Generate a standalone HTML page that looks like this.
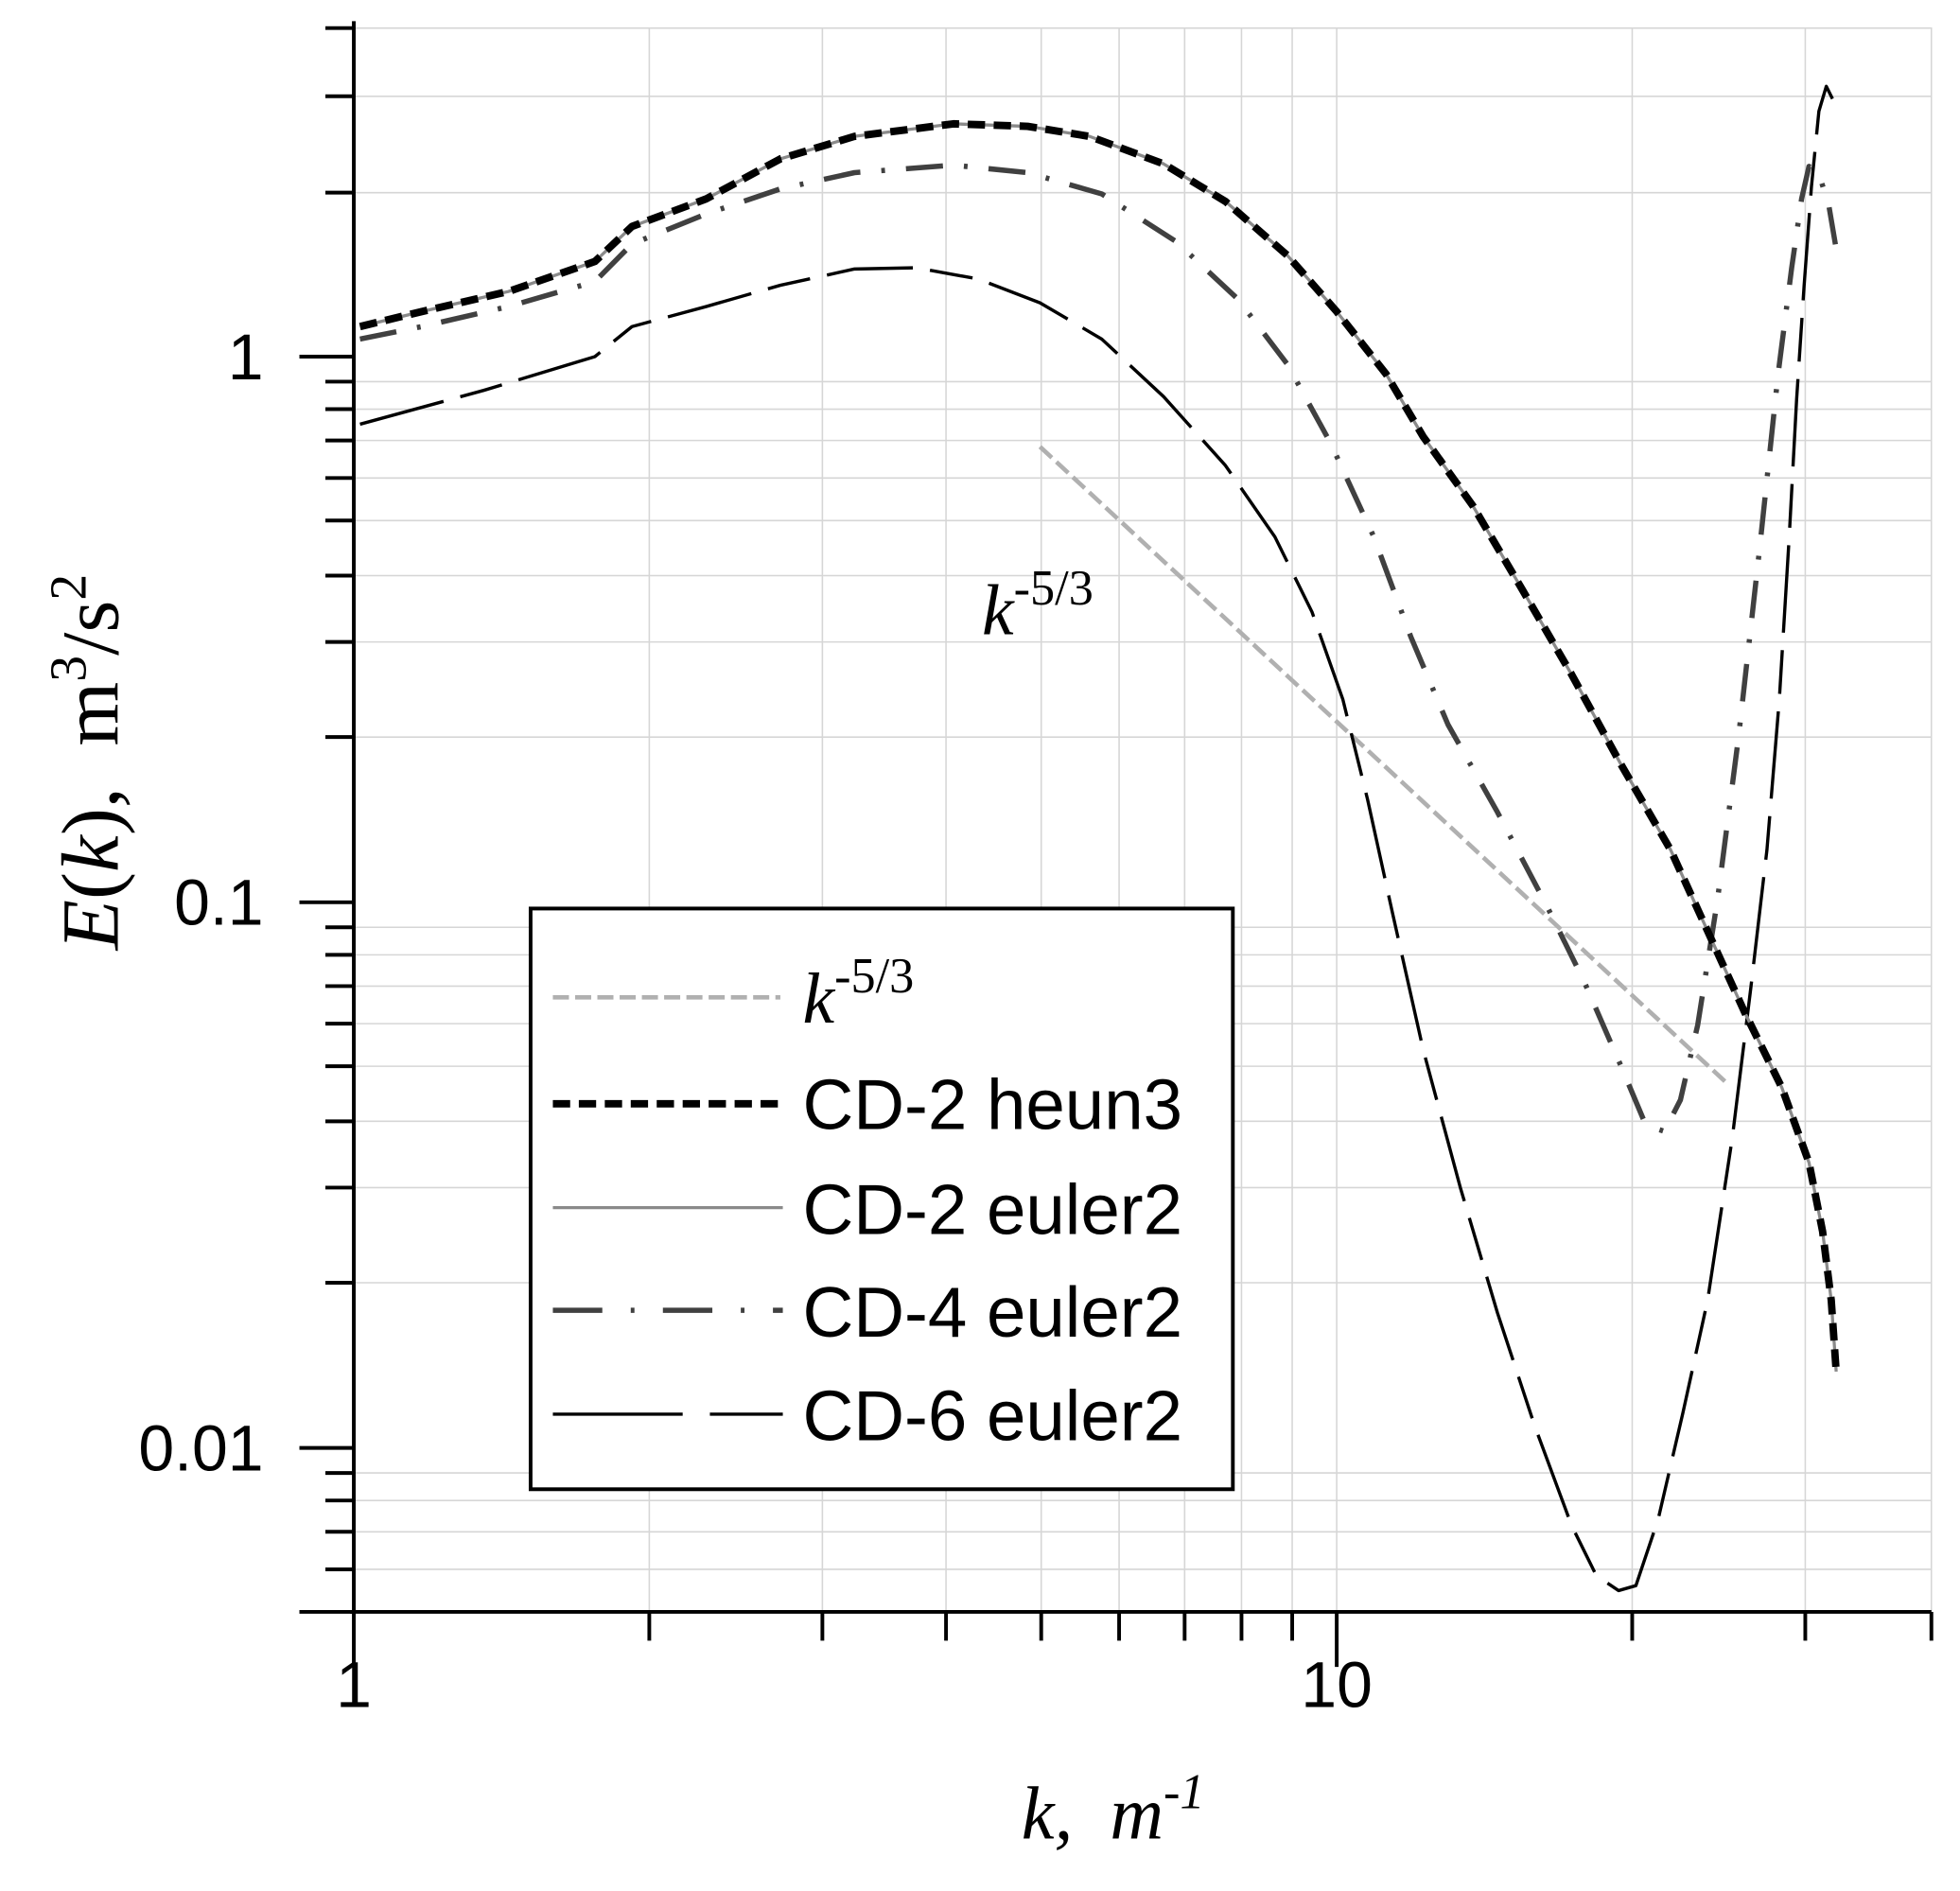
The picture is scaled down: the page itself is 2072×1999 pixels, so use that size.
<!DOCTYPE html>
<html><head><meta charset="utf-8"><style>html,body{margin:0;padding:0;background:#fff}svg{display:block}</style></head>
<body>
<svg width="2072" height="1999" viewBox="0 0 2072 1999" xmlns="http://www.w3.org/2000/svg">
<rect width="2072" height="1999" fill="#fff"/>
<g transform="translate(14.6,-1.4) scale(1.307,1.323)">
<!-- grid -->
<g stroke="#d6d6d6" stroke-width="1.2" fill="none">
<path d="M514 23V1289M654 23V1289M754 23V1289M831 23V1289M894 23V1289M947 23V1289M993 23V1289M1034 23V1289M1070 23V1289M1309 23V1289M1449 23V1289M1551 23V1289"/>
<path d="M275 23.5H1551M275 78H1551M275 155H1551M275 306H1551M275 328H1551M275 353H1551M275 383H1551M275 417H1551M275 461H1551M275 514H1551M275 590H1551M275 742H1551M275 764H1551M275 789H1551M275 819H1551M275 853H1551M275 897H1551M275 950H1551M275 1026H1551M275 1178H1551M275 1200H1551M275 1225H1551M275 1255H1551"/>
</g>
<!-- axes -->
<g stroke="#000" stroke-width="3" fill="none">
<path d="M275 18V1290M272 1289H1551"/>
<path d="M231 286H275M231 722H275M231 1158H275M231 1289H275"/>
<path d="M252 23.5H275M252 78H275M252 155H275M252 306H275M252 328H275M252 353H275M252 383H275M252 417H275M252 461H275M252 514H275M252 590H275M252 742H275M252 764H275M252 789H275M252 819H275M252 853H275M252 897H275M252 950H275M252 1026H275M252 1178H275M252 1200H275M252 1225H275M252 1255H275"/>
<path d="M275 1289V1333M1070 1289V1333"/>
<path d="M514 1289V1312M654 1289V1312M754 1289V1312M831 1289V1312M894 1289V1312M947 1289V1312M993 1289V1312M1034 1289V1312M1309 1289V1312M1449 1289V1312M1551 1289V1312"/>
</g>
<g font-family="Liberation Sans, sans-serif" font-size="52" fill="#000">
<text x="202" y="304" text-anchor="end">1</text>
<text x="202" y="740" text-anchor="end">0.1</text>
<text x="202" y="1176" text-anchor="end">0.01</text>
<text x="275" y="1365" text-anchor="middle">1</text>
<text x="1070" y="1365" text-anchor="middle">10</text>
</g>
<!-- axis titles -->
<text font-family="Liberation Serif, serif" font-size="66" transform="translate(84,610) rotate(-90)" text-anchor="middle"><tspan font-style="italic">E</tspan>(<tspan font-style="italic">k</tspan>),&#160;&#160;m<tspan font-size="42" dy="-26">3</tspan><tspan dy="26">/s</tspan><tspan font-size="42" dy="-26">2</tspan></text>
<text font-family="Liberation Serif, serif" font-size="60" font-style="italic" x="815" y="1470">k,&#160;&#160;m<tspan font-size="40" dy="-24">-1</tspan></text>
<text font-family="Liberation Serif, serif" font-size="58" x="783" y="508"><tspan font-style="italic">k</tspan><tspan font-size="40" dy="-24">-5/3</tspan></text>
<!-- k^-5/3 -->
<path d="M830 358L1385 866" stroke="#b0b0b0" stroke-width="3.5" stroke-dasharray="13 5" fill="none"/>
<!-- CD-6 -->
<path d="M280 340L380 313L470 286L500 262L560 246L620 229L680 216L730 215L780 224L830 243L880 272L930 318L980 373L1020 430L1050 490L1075 560L1095 640L1115 730L1140 840L1170 950L1200 1050L1230 1140L1260 1220L1280 1260L1298 1272L1312 1268L1330 1215L1350 1130L1370 1040L1390 910L1405 790L1418 680L1428 560L1436 430L1442 320L1448 230L1454 150L1460 90L1466 70L1471 80" stroke="#000" stroke-width="2.6" stroke-dasharray="70 14 35 14" fill="none" stroke-linejoin="round"/>
<!-- CD-4 -->
<path d="M280 272L330 262L400 246L470 226L500 196L560 172L620 152L680 139L760 133L820 139L880 156L940 194L990 240L1030 292L1065 355L1100 430L1130 510L1160 580L1200 650L1240 725L1270 785L1300 853L1320 900L1335 905L1348 880L1362 820L1378 720L1395 590L1412 440L1427 300L1438 215L1446 160L1452 134L1460 140L1468 165L1474 200" stroke="#404040" stroke-width="4.2" stroke-dasharray="30 17 3 17" fill="none" stroke-linejoin="round"/>
<!-- CD-2 euler2 -->
<path d="M280 262L330 250L400 234L470 210L500 182L560 160L620 128L680 110L760 100L820 102L870 110L930 132L980 162L1030 205L1070 250L1110 300L1140 350L1180 405L1220 472L1260 540L1300 612L1340 680L1370 745L1400 810L1430 870L1452 930L1463 985L1470 1040L1474 1097" stroke="#8a8a8a" stroke-width="2.5" fill="none" stroke-linejoin="round"/>
<!-- CD-2 heun3 -->
<path d="M280 262L330 250L400 234L470 210L500 182L560 160L620 128L680 110L760 100L820 102L870 110L930 132L980 162L1030 205L1070 250L1110 300L1140 350L1180 405L1220 472L1260 540L1300 612L1340 680L1370 745L1400 810L1430 870L1452 930L1463 985L1470 1040L1474 1097" stroke="#000" stroke-width="6" stroke-dasharray="14 7" fill="none" stroke-linejoin="round"/>
<!-- legend -->
<rect x="418" y="727" width="568" height="464" fill="#fff" stroke="#000" stroke-width="3"/>
<path d="M436 798H620" stroke="#b0b0b0" stroke-width="3.5" stroke-dasharray="13 5"/>
<path d="M436 883H622" stroke="#000" stroke-width="6" stroke-dasharray="14 7"/>
<path d="M436 966H622" stroke="#8a8a8a" stroke-width="2.5"/>
<path d="M436 1048H622" stroke="#404040" stroke-width="4.2" stroke-dasharray="40 23 3 23"/>
<path d="M436 1131H622" stroke="#000" stroke-width="2.6" stroke-dasharray="105 22 70"/>
<g font-family="Liberation Sans, sans-serif" font-size="57" fill="#000">
<text x="638" y="903">CD-2 heun3</text>
<text x="638" y="987">CD-2 euler2</text>
<text x="638" y="1069">CD-4 euler2</text>
<text x="638" y="1152">CD-6 euler2</text>
</g>
<text font-family="Liberation Serif, serif" font-size="58" x="638" y="818"><tspan font-style="italic">k</tspan><tspan font-size="40" dy="-24">-5/3</tspan></text>
</g>
</svg>
</body></html>
